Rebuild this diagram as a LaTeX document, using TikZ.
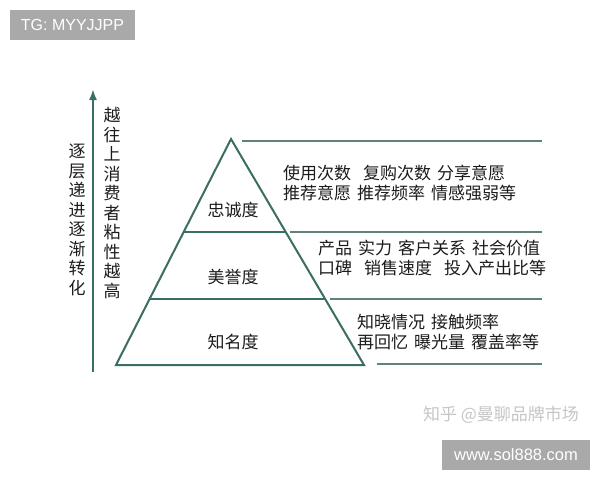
\documentclass[tikz,border=0pt]{standalone}
\usepackage{fontspec}
\setmainfont{Liberation Sans}
\newfontfamily\cjk{Noto Sans CJK SC}
\usetikzlibrary{arrows.meta,calc,positioning}

\definecolor{pyr}{HTML}{3B6E63}
\definecolor{rule}{HTML}{5F8279}
\definecolor{txt}{HTML}{1C1C1C}
\definecolor{mark}{HTML}{A9A9A9}
\definecolor{zhihu}{HTML}{C6C6C6}

\begin{document}
\begin{tikzpicture}[x=1pt,y=-1pt,
        cn/.style={font=\cjk\fontsize{17}{20}\selectfont,text=txt,inner sep=0pt},
        desc/.style={font={\cjk\fontsize{17}{20}\selectfont\spaceskip=6pt\relax},
            text=txt,inner sep=0pt,align=left,anchor=west},
        col/.style={font=\cjk\fontsize{17}{19.5}\selectfont,text=txt,inner sep=0pt,align=center},
        edge/.style={draw=pyr,line width=2pt},
        band/.style={draw=pyr,line width=1.3pt},
        lead/.style={draw=rule,line width=1.3pt},
        wm/.style={fill=mark,text=white,inner sep=0pt,font=\fontsize{16}{16}\selectfont}]
        \useasboundingbox[fill=white] (0,0) rectangle (600,480);

        % pyramid
        \coordinate (a) at (231,139);
        \coordinate (l) at (116,365);
        \coordinate (r) at (364,365);
        \draw[edge,line join=miter] (a) -- (l) -- (r) -- cycle;
        \draw[band] ($(a)!0.4115!(l)$) -- ($(a)!0.4115!(r)$);
        \draw[band] ($(a)!0.708!(l)$) -- ($(a)!0.708!(r)$);

        \node[cn] (loyal) at (233,210) {忠诚度};
        \node[cn] (fame) at (233,277) {美誉度};
        \node[cn] (known) at (233,342) {知名度};

        % lead lines on the right
        \draw[lead] (242,141) -- (542,141);
        \draw[lead] (290,232) -- (542,232);
        \draw[lead] (330,299) -- (542,299);
        \draw[lead] (377,364) -- (542,364);

        \node[desc] (d1) at (283,183) {使用次数~ 复购次数 分享意愿\\推荐意愿 推荐频率 情感强弱等};
        \node[desc] (d2) at (318,258) {产品 实力 客户关系 社会价值\\口碑~ 销售速度~ 投入产出比等};
        \node[desc] (d3) at (357,332) {知晓情况 接触频率\\再回忆 曝光量 覆盖率等};

        % arrow and side texts
        \coordinate (dn) at (93,372);
        \coordinate (up) at (93,89);
        \draw[edge,-{Latex[length=11pt,width=8pt]}] (dn) -- (up);
        \node[col] (stage) at (77,220) {逐\\层\\递\\进\\逐\\渐\\转\\化};
        \node[col] (stick) at (112,203) {越\\往\\上\\消\\费\\者\\粘\\性\\越\\高};

        % watermarks
        \node[wm,minimum width=125pt,minimum height=30pt] (tg) at (72.5,25) {TG: MYYJJPP};
        \node[font=\cjk\fontsize{17}{17}\selectfont,text=zhihu,inner sep=0pt] (zh) at (501,415) {知乎 @曼聊品牌市场};
        \node[wm,minimum width=148pt,minimum height=30pt,font=\fontsize{16.5}{16.5}\selectfont] (www) at (516,455) {www.sol888.com};
    \end{tikzpicture}
\end{document}
